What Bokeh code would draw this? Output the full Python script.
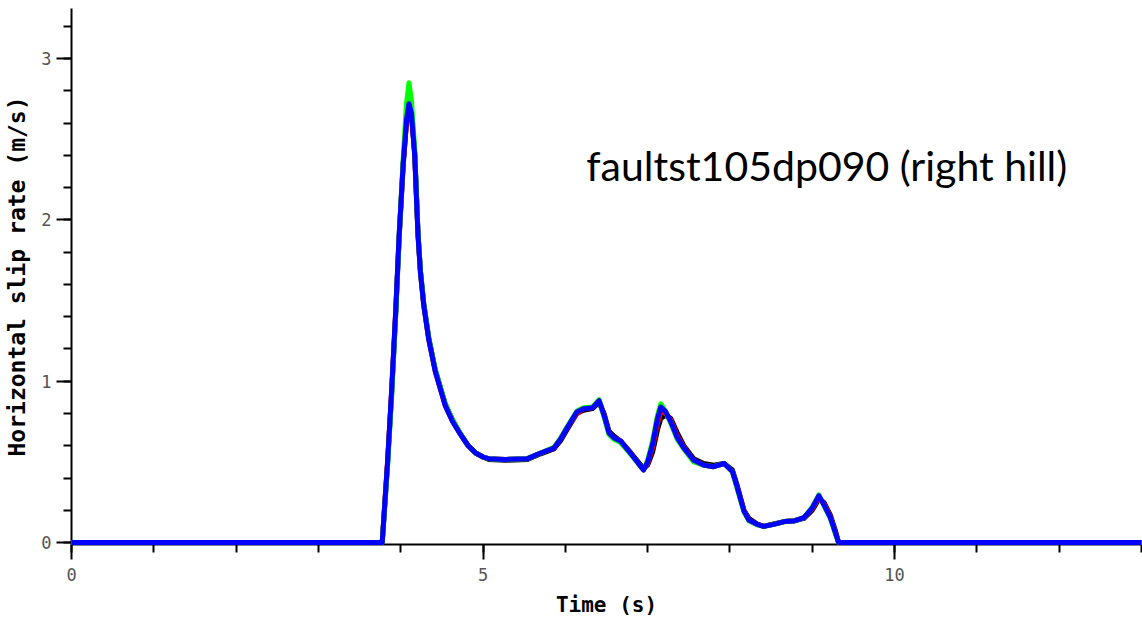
from bokeh.plotting import figure
from bokeh.models import Range1d, FixedTicker, Label
from bokeh.embed import file_html
from bokeh.resources import INLINE

# ---- data ----
time_s = [0.0, 3.70, 3.775, 3.84, 3.89, 3.94, 3.98, 4.03, 4.07, 4.10, 4.13,
          4.17, 4.21, 4.24, 4.28, 4.34, 4.42, 4.54, 4.63, 4.73, 4.82, 4.91,
          5.00, 5.07, 5.27, 5.54, 5.70, 5.86, 5.94, 6.02, 6.14, 6.22, 6.33,
          6.41, 6.47, 6.53, 6.59, 6.67, 6.79, 6.95, 7.00, 7.06, 7.12, 7.16,
          7.22, 7.28, 7.36, 7.44, 7.56, 7.68, 7.80, 7.93, 8.03, 8.09, 8.17,
          8.23, 8.33, 8.41, 8.53, 8.66, 8.78, 8.90, 9.00, 9.08, 9.14, 9.22,
          9.28, 9.32, 13.0]

slip_blue = [0, 0, 0, 0.50, 0.95, 1.45, 1.90, 2.35, 2.62, 2.72, 2.66,
             2.40, 1.90, 1.67, 1.47, 1.26, 1.06, 0.85, 0.75, 0.667, 0.60, 0.555,
             0.53, 0.52, 0.515, 0.52, 0.555, 0.585, 0.64, 0.71, 0.81, 0.83, 0.835,
             0.88, 0.79, 0.68, 0.65, 0.63, 0.555, 0.45, 0.50, 0.61, 0.77, 0.84,
             0.81, 0.75, 0.65, 0.585, 0.51, 0.48, 0.47, 0.49, 0.44, 0.34, 0.195,
             0.14, 0.113, 0.10, 0.113, 0.13, 0.134, 0.154, 0.215, 0.29, 0.236, 0.154,
             0.062, 0, 0]
slip_black = [0, 0, 0, 0.49, 0.93, 1.43, 1.88, 2.34, 2.60, 2.70, 2.65,
              2.41, 1.92, 1.68, 1.48, 1.27, 1.07, 0.86, 0.76, 0.67, 0.60, 0.555,
              0.53, 0.515, 0.51, 0.515, 0.55, 0.58, 0.63, 0.70, 0.80, 0.82, 0.83,
              0.87, 0.80, 0.69, 0.66, 0.63, 0.56, 0.46, 0.48, 0.56, 0.70, 0.77,
              0.79, 0.77, 0.68, 0.60, 0.52, 0.49, 0.48, 0.49, 0.45, 0.35, 0.20,
              0.15, 0.115, 0.10, 0.115, 0.13, 0.135, 0.15, 0.20, 0.27, 0.25, 0.17,
              0.075, 0, 0]
slip_red = [0, 0, 0, 0.50, 0.94, 1.44, 1.89, 2.35, 2.61, 2.71, 2.66,
            2.41, 1.91, 1.67, 1.47, 1.26, 1.06, 0.85, 0.75, 0.667, 0.60, 0.555,
            0.53, 0.52, 0.515, 0.52, 0.555, 0.585, 0.64, 0.71, 0.80, 0.83, 0.835,
            0.88, 0.79, 0.68, 0.65, 0.63, 0.555, 0.45, 0.49, 0.59, 0.74, 0.81,
            0.80, 0.76, 0.66, 0.59, 0.51, 0.48, 0.47, 0.49, 0.44, 0.34, 0.20,
            0.14, 0.113, 0.10, 0.113, 0.13, 0.134, 0.154, 0.21, 0.28, 0.245, 0.16,
            0.068, 0, 0]
slip_green = [0, 0, 0, 0.47, 0.91, 1.42, 1.88, 2.38, 2.72, 2.85, 2.74,
              2.44, 1.92, 1.68, 1.48, 1.27, 1.07, 0.86, 0.76, 0.67, 0.60, 0.555,
              0.53, 0.52, 0.515, 0.52, 0.555, 0.59, 0.645, 0.715, 0.815, 0.835, 0.84,
              0.885, 0.78, 0.67, 0.64, 0.62, 0.55, 0.45, 0.51, 0.63, 0.79, 0.86,
              0.81, 0.74, 0.64, 0.58, 0.50, 0.48, 0.47, 0.49, 0.44, 0.33, 0.19,
              0.135, 0.11, 0.10, 0.113, 0.13, 0.134, 0.154, 0.22, 0.295, 0.23, 0.15,
              0.055, 0, 0]

series = [("black", slip_black), ("red", slip_red), ("#00ff00", slip_green), ("blue", slip_blue)]

x_major = [0, 5, 10]
x_minor = list(range(0, 14))
y_major = [0, 1, 2, 3]
y_minor = [round(0.2 * i, 1) for i in range(0, 17)]

title_text = "faultst105dp090  (right hill)"
x_title = "Time (s)"
y_title = "Horizontal slip rate (m/s)"

p = figure(width=1142, height=619, output_backend="svg", toolbar_location=None,
           x_range=Range1d(0, 13), y_range=Range1d(-0.012, 3.31),
           min_border_left=71, min_border_right=1, min_border_top=8, min_border_bottom=72)
p.outline_line_color = None
p.grid.visible = False
p.background_fill_color = "white"
p.border_fill_color = "white"

for color, ys in series:
    r = p.line(time_s, ys, line_color=color, line_width=5, line_join="round")
    r.level = "overlay"

for ax in (p.xaxis[0], p.yaxis[0]):
    ax.axis_line_color = "black"
    ax.axis_line_width = 2
    ax.major_tick_line_color = "black"
    ax.major_tick_line_width = 2
    ax.minor_tick_line_color = "black"
    ax.minor_tick_line_width = 2
    ax.major_tick_out = 15
    ax.major_tick_in = 0
    ax.minor_tick_out = 8
    ax.minor_tick_in = 0
    ax.major_label_text_font = "DejaVu Sans Mono"
    ax.major_label_text_font_size = "17px"
    ax.major_label_text_color = "#555555"
    ax.axis_label_text_font = "DejaVu Sans Mono"
    ax.axis_label_text_font_style = "bold"
    ax.axis_label_text_color = "black"

p.xaxis[0].axis_label_text_font_size = "21px"
p.yaxis[0].axis_label_text_font_size = "23px"
p.xaxis[0].ticker = FixedTicker(ticks=x_major, minor_ticks=x_minor)
p.yaxis[0].ticker = FixedTicker(ticks=y_major, minor_ticks=y_minor)
p.xaxis[0].axis_label = x_title
p.yaxis[0].axis_label = y_title
p.xaxis[0].major_label_standoff = 8
p.yaxis[0].major_label_standoff = 5
p.xaxis[0].axis_label_standoff = 9
p.yaxis[0].axis_label_standoff = 8

p.add_layout(Label(x=9.24, y=2.34, text=title_text, text_align="center",
                   text_baseline="alphabetic", text_font="Lato",
                   text_font_size="41px", text_color="black"))

open("out.html", "w").write(file_html(p, INLINE))
